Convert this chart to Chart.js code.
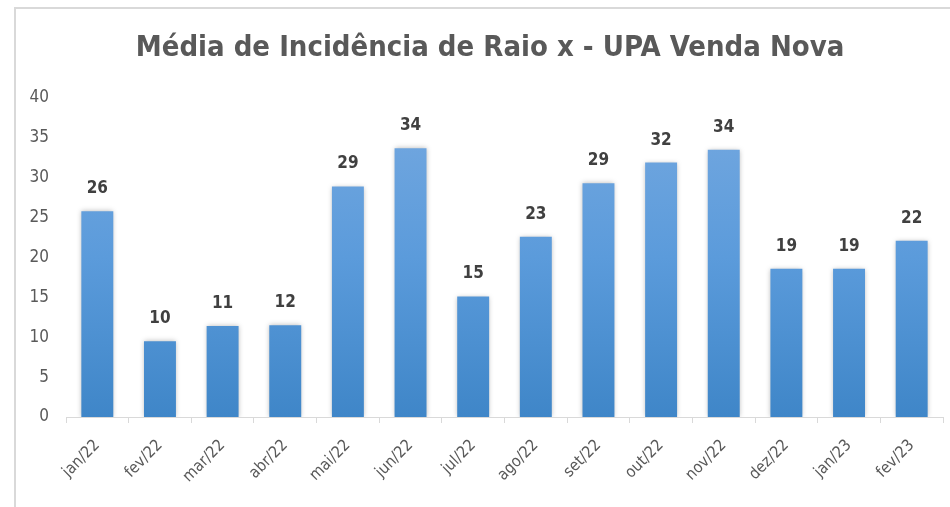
<!DOCTYPE html>
<html><head><meta charset="utf-8">
<script src="https://cdn.jsdelivr.net/npm/chart.js@4/dist/chart.umd.min.js"></script>
<style>html,body{margin:0;padding:0;background:#fff;}#wrap{width:950px;height:507px;position:relative;}</style>
</head><body><div id="wrap"><canvas id="c" width="950" height="507"></canvas></div>
<script>
const title = "Média de Incidência de Raio x - UPA Venda Nova";
const categories = ["jan/22","fev/22","mar/22","abr/22","mai/22","jun/22","jul/22","ago/22","set/22","out/22","nov/22","dez/22","jan/23","fev/23"];
const values = [25.8, 9.5, 11.4, 11.5, 28.9, 33.7, 15.1, 22.6, 29.3, 31.9, 33.5, 18.6, 18.6, 22.1];
const yTicks = [0,5,10,15,20,25,30,35,40];

const FONT = "'DejaVu Sans Condensed','Liberation Sans',sans-serif";

const shadowPlugin = {
  id:'shadow',
  beforeDatasetsDraw(chart){ const c=chart.ctx; c.save(); c.shadowColor='rgba(0,0,0,0.28)'; c.shadowBlur=5; c.shadowOffsetX=0; c.shadowOffsetY=0; },
  afterDatasetsDraw(chart){ chart.ctx.restore(); }
};

const framePlugin = {
  id:'frame',
  beforeDraw(chart){
    const ctx = chart.ctx;
    ctx.save();
    ctx.strokeStyle = '#d9d9d9';
    ctx.lineWidth = 2;
    ctx.beginPath();
    ctx.moveTo(15, 507); ctx.lineTo(15, 8); ctx.lineTo(950, 8);
    ctx.stroke();
    ctx.fillStyle = '#595959';
    ctx.font = "bold 29px " + FONT;
    ctx.textAlign = 'center';
    ctx.textBaseline = 'middle';
    ctx.fillText(title, 490, 48);
    ctx.restore();
  },
  afterDatasetsDraw(chart){
    const ctx = chart.ctx;
    const meta = chart.getDatasetMeta(0);
    ctx.save();
    ctx.shadowColor = 'transparent';
    ctx.fillStyle = '#404040';
    ctx.font = "bold 17px " + FONT;
    ctx.textAlign = 'center';
    ctx.textBaseline = 'bottom';
    meta.data.forEach((el,i)=>{
      ctx.fillText(String(Math.round(values[i])), el.x, el.y - 14);
    });
    ctx.restore();
  }
};

new Chart(document.getElementById('c'), {
  type:'bar',
  data:{
    labels: categories,
    datasets:[{
      data: values,
      backgroundColor: (ctx)=>{
        const ch = ctx.chart; const a = ch.chartArea;
        if(!a) return '#5b9bd5';
        const g = ch.ctx.createLinearGradient(0, a.top, 0, a.bottom);
        g.addColorStop(0, '#76a9e0');
        g.addColorStop(0.5, '#5b9bdb');
        g.addColorStop(1, '#3f86c8');
        return g;
      },
      borderWidth:0,
      barPercentage:0.51,
      categoryPercentage:1.0
    }]
  },
  options:{
    responsive:false,
    animation:false,
    devicePixelRatio:1,
    layout:{padding:{left:15, right:7, top:98, bottom:0}},
    plugins:{legend:{display:false}, tooltip:{enabled:false}, title:{display:false}},
    scales:{
      y:{
        min:0, max:40,
        afterBuildTicks(s){ s.ticks = yTicks.map(v=>({value:v})); },
        grid:{display:false, drawTicks:false},
        border:{display:false},
        ticks:{color:'#595959', font:{family:FONT, size:17}, padding:17},
        afterFit(s){ s.width = 51; }
      },
      x:{
        grid:{display:true, drawOnChartArea:false, drawTicks:true, tickLength:6, color:'#d9d9d9', offset:true},
        border:{display:true, color:'#d9d9d9', width:1},
        ticks:{color:'#595959', font:{family:FONT, size:16}, minRotation:45, maxRotation:45, padding:13},
        afterFit(s){ s.height = 90; }
      }
    }
  },
  plugins:[shadowPlugin, framePlugin]
});
</script></body></html>
